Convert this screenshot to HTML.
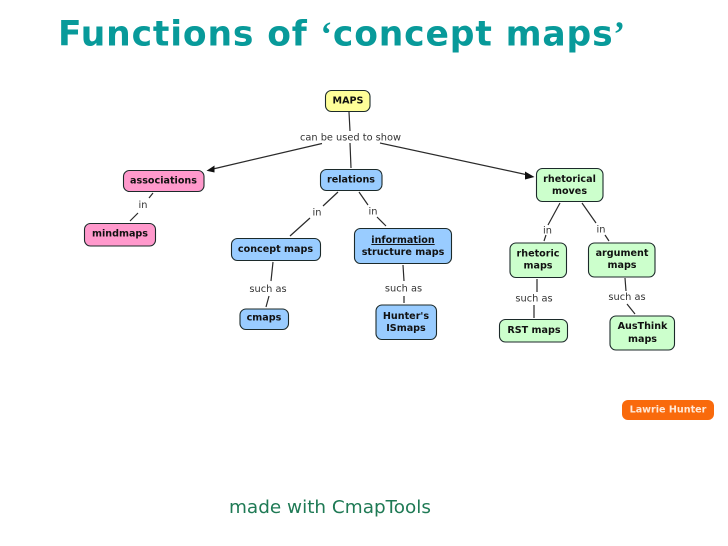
<!DOCTYPE html>
<html><head><meta charset="utf-8"><style>
html,body{margin:0;padding:0;background:#fff;width:728px;height:546px;overflow:hidden}
svg{display:block}
text{font-family:"DejaVu Sans",Verdana,sans-serif}
.n{font-size:9.6px;font-weight:bold;fill:#111;text-anchor:middle}
.l{font-size:9.8px;fill:#333;text-anchor:middle}
.c{stroke:#2a2a2a;stroke-width:1.2;fill:none}
.b{stroke:#1c2a2a;stroke-width:1.1}
.p{fill:#ff99cc}.u{fill:#99ccff}.g{fill:#ccffcc}
</style></head><body>
<svg width="728" height="546" viewBox="0 0 728 546" xmlns="http://www.w3.org/2000/svg">
<text x="58" y="45.5" font-size="34.5" font-weight="bold" fill="#089a9a" textLength="567" lengthAdjust="spacing">Functions of <tspan font-family="Liberation Serif">‘</tspan>concept maps<tspan font-family="Liberation Serif">’</tspan></text>

<g class="c">
<path d="M349 112L350 131M350 143L351 168"/>
<path d="M322 143.5L213 169"/>
<path d="M380 143L528 175"/>
<path d="M153 193L149 198M138 213L130 221"/>
<path d="M338 192L323 206M310 218L290 236"/>
<path d="M359 192L368 205M377 217L386 226"/>
<path d="M273 262L271 281M269 296L266 307"/>
<path d="M403 265L404 281M404 296L404 303"/>
<path d="M560 203L548 225M546 235L544 241"/>
<path d="M582 203L596 223M605 235L609 241"/>
<path d="M537 279L537 292M534 305L534 318"/>
<path d="M625 278L626 291M627 304L635 314"/>
</g>
<path d="M206.5 170.7L214.5 165.5L214.5 172.5Z" fill="#111"/>
<path d="M534.5 177L525 171.5L525 179.5Z" fill="#111"/>

<g class="b">
<rect x="325.5" y="90.5" width="44.5" height="21" rx="6" fill="#ffff99"/>
<rect class="p" x="123.5" y="170.5" width="80.5" height="21" rx="6"/>
<rect class="u" x="320.5" y="169.5" width="61.5" height="21" rx="6"/>
<rect class="p" x="84.5" y="223.5" width="71" height="22.5" rx="6"/>
<rect class="u" x="231.5" y="238.5" width="89" height="22" rx="6"/>
<rect class="u" x="240" y="309" width="48.5" height="20.5" rx="6"/>
<rect class="u" x="354.5" y="228.5" width="97" height="35" rx="6"/>
<rect class="u" x="376" y="305" width="60.5" height="34.5" rx="6"/>
<rect class="g" x="536.5" y="168.5" width="66.5" height="33" rx="6"/>
<rect class="g" x="510" y="243" width="56.5" height="34.5" rx="6"/>
<rect class="g" x="588.5" y="243" width="66.5" height="34" rx="6"/>
<rect class="g" x="499.5" y="319.5" width="68" height="22.5" rx="6"/>
<rect class="g" x="610" y="316" width="64.5" height="34" rx="6"/>
</g>
<rect x="622" y="400" width="92" height="20" rx="6" fill="#f96a0c"/>

<text class="n" x="348" y="103.5">MAPS</text>
<text class="n" x="163.5" y="183.5">associations</text>
<text class="n" x="351" y="182.5">relations</text>
<text class="n" x="120" y="236.5">mindmaps</text>
<text class="n" x="275.5" y="252">concept maps</text>
<text class="n" x="264" y="320.5">cmaps</text>
<text class="n" x="403" y="243" text-decoration="underline">information</text>
<text class="n" x="403" y="255">structure maps</text>
<text class="n" x="406" y="319">Hunter's</text>
<text class="n" x="406" y="331">ISmaps</text>
<text class="n" x="569.5" y="182">rhetorical</text>
<text class="n" x="569.5" y="194">moves</text>
<text class="n" x="538" y="256.5">rhetoric</text>
<text class="n" x="538" y="268.5">maps</text>
<text class="n" x="622" y="256">argument</text>
<text class="n" x="622" y="268">maps</text>
<text class="n" x="534" y="333">RST maps</text>
<text class="n" x="642.5" y="329">AusThink</text>
<text class="n" x="642.5" y="342">maps</text>
<text class="n" x="668" y="412.5" style="fill:#ffe9d8">Lawrie Hunter</text>

<text class="l" x="350.5" y="140.5">can be used to show</text>
<text class="l" x="143" y="208">in</text>
<text class="l" x="317" y="215.5">in</text>
<text class="l" x="373" y="214.5">in</text>
<text class="l" x="268" y="292">such as</text>
<text class="l" x="403.5" y="291.5">such as</text>
<text class="l" x="547.5" y="233.5">in</text>
<text class="l" x="601" y="232.5">in</text>
<text class="l" x="534" y="301.5">such as</text>
<text class="l" x="627" y="300">such as</text>

<text x="229" y="513" font-size="18" fill="#1f7a55" textLength="202" lengthAdjust="spacingAndGlyphs">made with CmapTools</text>
</svg>
</body></html>
